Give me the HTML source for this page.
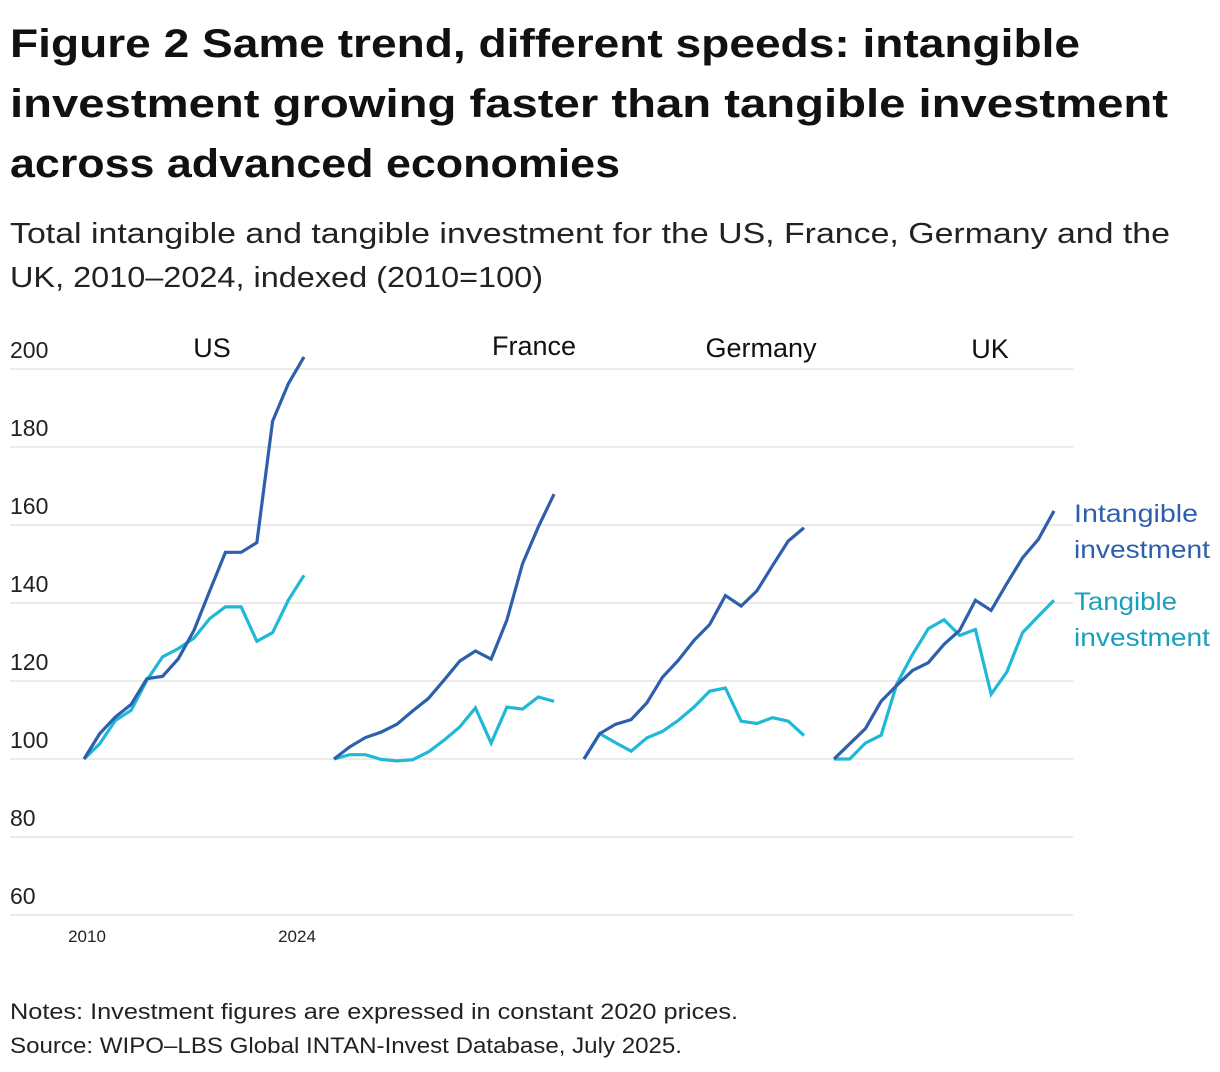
<!DOCTYPE html>
<html><head><meta charset="utf-8"><style>
body{margin:0;background:#fff;font-family:"Liberation Sans",sans-serif;color:#111}
svg{display:block}
</style></head><body>
<svg width="1220" height="1072" xmlns="http://www.w3.org/2000/svg">
<g font-weight="bold" font-size="40" fill="#111">
<text x="10" y="57" textLength="1070" lengthAdjust="spacingAndGlyphs">Figure 2 Same trend, different speeds: intangible</text>
<text x="10" y="117" textLength="1158" lengthAdjust="spacingAndGlyphs">investment growing faster than tangible investment</text>
<text x="10" y="177" textLength="610" lengthAdjust="spacingAndGlyphs">across advanced economies</text>
</g>
<g font-size="29" fill="#222">
<text x="10" y="243" textLength="1160" lengthAdjust="spacingAndGlyphs">Total intangible and tangible investment for the US, France, Germany and the</text>
<text x="10" y="287" textLength="533" lengthAdjust="spacingAndGlyphs">UK, 2010–2024, indexed (2010=100)</text>
</g>
<g id="grid"></g>
<g id="yt" font-size="23" fill="#222"></g>
<g id="plots"></g>
<g font-size="17" fill="#222" text-anchor="middle">
<text x="87" y="942">2010</text><text x="297" y="942">2024</text>
</g>
<g font-size="25">
<text x="1074" y="522" fill="#2e5fac"><tspan x="1074" textLength="124" lengthAdjust="spacingAndGlyphs">Intangible</tspan><tspan x="1074" dy="36" textLength="136" lengthAdjust="spacingAndGlyphs">investment</tspan></text>
<text x="1074" y="610" fill="#1a9fbd"><tspan x="1074" textLength="103" lengthAdjust="spacingAndGlyphs">Tangible</tspan><tspan x="1074" dy="36" textLength="136" lengthAdjust="spacingAndGlyphs">investment</tspan></text>
</g>
<g font-size="22" fill="#222">
<text x="10" y="1019" textLength="728" lengthAdjust="spacingAndGlyphs">Notes: Investment figures are expressed in constant 2020 prices.</text>
<text x="10" y="1053" textLength="672" lengthAdjust="spacingAndGlyphs">Source: WIPO–LBS Global INTAN-Invest Database, July 2025.</text>
</g>
</svg>
<script>
const countries=["US","France","Germany","UK"];
const yTicks=[60,80,100,120,140,160,180,200];
const intUS=[100,106.5,110.8,114,120.6,121.2,125.7,133,143.1,153,153,155.5,186.6,196.2,203.1];
const tanUS=[100,103.9,109.9,112.5,120.2,126.2,128.3,131,136,139,139,130.2,132.4,140.7,147.1];
const intFR=[100,103.1,105.5,106.9,108.9,112.3,115.5,120.2,125.1,127.7,125.6,135.6,150.1,159.5,167.9];
const tanFR=[100,101.1,101.1,99.9,99.5,99.8,101.8,104.8,108.2,113.1,104.1,113.3,112.8,115.9,114.8];
const intDE=[100,106.5,108.9,110.1,114.4,121,125.3,130.4,134.5,141.9,139.2,143.1,149.6,155.9,159.3];
const tanDE=[100,106.5,104.2,102,105.4,107.1,109.9,113.3,117.4,118.2,109.7,109.1,110.6,109.7,106];
const intUK=[100,103.9,107.8,114.8,118.9,122.7,124.7,129.4,133,140.7,138.1,145,151.6,156.3,163.6];
const tanUK=[100,100,104.1,106.1,119.3,126.8,133.4,135.7,131.7,133.2,116.6,122.3,132.4,136.6,140.7];
const intangible=[intUS,intFR,intDE,intUK];
const tangible=[tanUS,tanFR,tanDE,tanUK];
const NS="http://www.w3.org/2000/svg";
const y=v=>759-(v-100)*3.9;
const x=(p,i)=>84+p*250+i*(220/14);
const grid=document.getElementById('grid'),yt=document.getElementById('yt'),plots=document.getElementById('plots');
yTicks.forEach(t=>{
 const l=document.createElementNS(NS,'line');
 
 
 l.setAttribute('x1',10);l.setAttribute('x2',1073);l.setAttribute('y1',y(t));l.setAttribute('y2',y(t));
 l.setAttribute('stroke','#e3e3e3');l.setAttribute('stroke-width',1.5);grid.appendChild(l);
 const tx=document.createElementNS(NS,'text');
 
 
 tx.setAttribute('x',10);tx.setAttribute('y',y(t)-11);tx.textContent=t;yt.appendChild(tx);
});
const titleX=[212,534,761,990],titleY=[357,355,357,358];
countries.forEach((c,p)=>{
 const t=document.createElementNS(NS,'text');
 
 
 t.setAttribute('x',titleX[p]);t.setAttribute('y',titleY[p]);t.setAttribute('text-anchor','middle');t.setAttribute('font-size','27');t.setAttribute('fill','#111');t.textContent=c;plots.appendChild(t);
 [[tangible[p],'#1fb8d6','tangible-line'],[intangible[p],'#2e5fac','intangible-line']].forEach(([d,col,nm])=>{
  const pl=document.createElementNS(NS,'polyline');
  
  
  pl.setAttribute('points',d.map((v,i)=>x(p,i)+','+y(v)).join(' '));
  pl.setAttribute('fill','none');pl.setAttribute('stroke',col);pl.setAttribute('stroke-width',3.2);pl.setAttribute('stroke-linejoin','miter');
  plots.appendChild(pl);
 });
});
</script>
</body></html>
